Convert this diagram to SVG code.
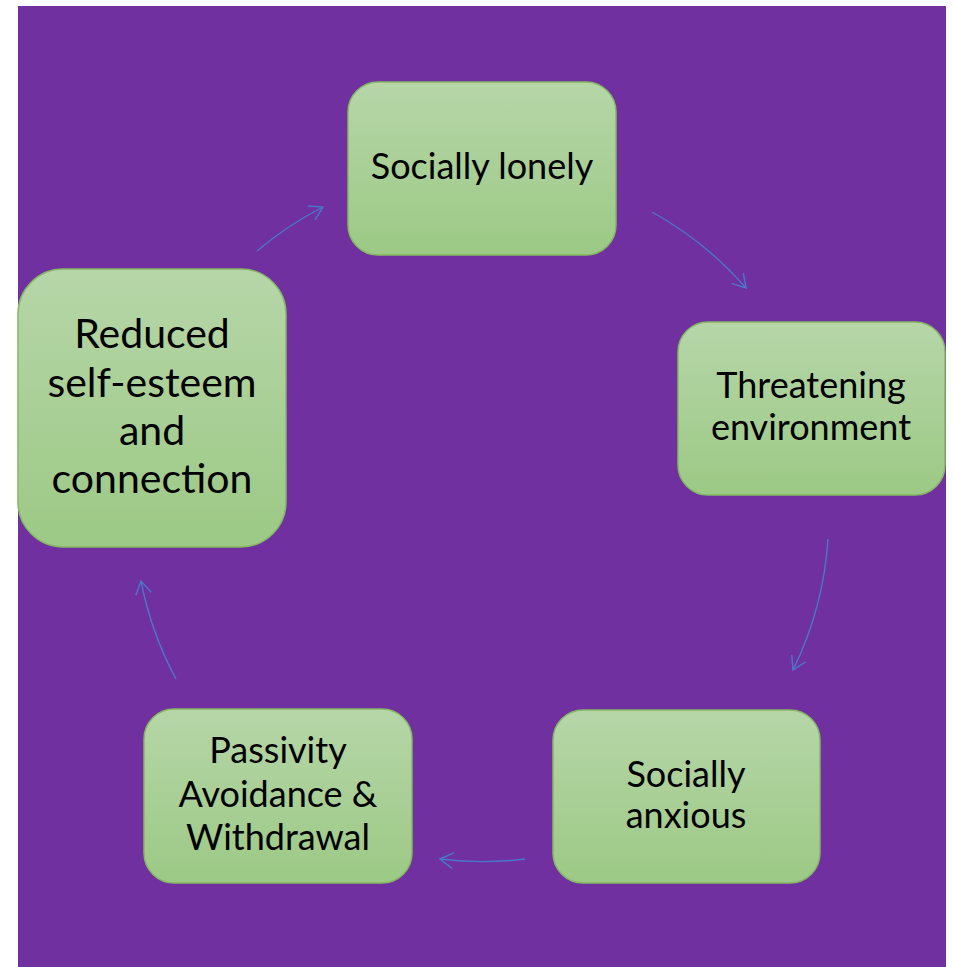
<svg xmlns="http://www.w3.org/2000/svg" width="953" height="967" viewBox="0 0 953 967">
<defs>
<linearGradient id="g" x1="0" y1="0" x2="0" y2="1">
<stop offset="0" stop-color="#B6D6A8"/>
<stop offset="1" stop-color="#9CC985"/>
</linearGradient>
<marker id="ah" markerUnits="userSpaceOnUse" markerWidth="30" markerHeight="30" refX="0" refY="0" viewBox="-20 -15 30 30" orient="auto" overflow="visible">
<path d="M-13,-7.8 L0,0 L-13,7.8" fill="none" stroke="#4A78C8" stroke-width="1.4"/>
</marker>
<style>
.box{fill:url(#g);stroke:#84B862;stroke-width:1.5}
.t{font-family:Lato,"Open Sans","Liberation Sans",sans-serif;font-size:36px;fill:#000;text-anchor:middle}
.big{font-size:41px}
.c{fill:none;stroke:#4A78C8;stroke-width:1.4;marker-end:url(#ah)}
</style>
</defs>
<rect x="18" y="6" width="928" height="961" fill="#7030A0"/>
<g id="connectors">
<path class="c" d="M257,251 A347,347 0 0 1 323,207"/>
<path class="c" d="M652,212 A347,347 0 0 1 746,288"/>
<path class="c" d="M828,539 A347,347 0 0 1 793,670"/>
<path class="c" d="M525,859 A347,347 0 0 1 440,859"/>
<path class="c" d="M176,679 A347,347 0 0 1 141,581"/>
</g>
<g id="n1">
<rect class="box" x="348" y="82" width="268" height="173" rx="30"/>
<text class="t" x="482" y="179">Socially lonely</text>
</g>
<g id="n2">
<rect class="box" x="678" y="322" width="267" height="173" rx="30"/>
<text class="t" x="811" y="398">Threatening</text>
<text class="t" x="811" y="440">environment</text>
</g>
<g id="n3">
<rect class="box" x="553" y="710" width="267" height="173" rx="30"/>
<text class="t" x="686" y="787">Socially</text>
<text class="t" x="686" y="828">anxious</text>
</g>
<g id="n4">
<rect class="box" x="144" y="709" width="268" height="174" rx="30"/>
<text class="t" x="278" y="763">Passivity</text>
<text class="t" x="278" y="807">Avoidance &amp;</text>
<text class="t" x="278" y="850">Withdrawal</text>
</g>
<g id="n5">
<rect class="box" x="18" y="269" width="268" height="278" rx="45"/>
<text class="t big" x="152" y="348">Reduced</text>
<text class="t big" x="152" y="397">self-esteem</text>
<text class="t big" x="152" y="445">and</text>
<text class="t big" x="152" y="493">connection</text>
</g>
</svg>
